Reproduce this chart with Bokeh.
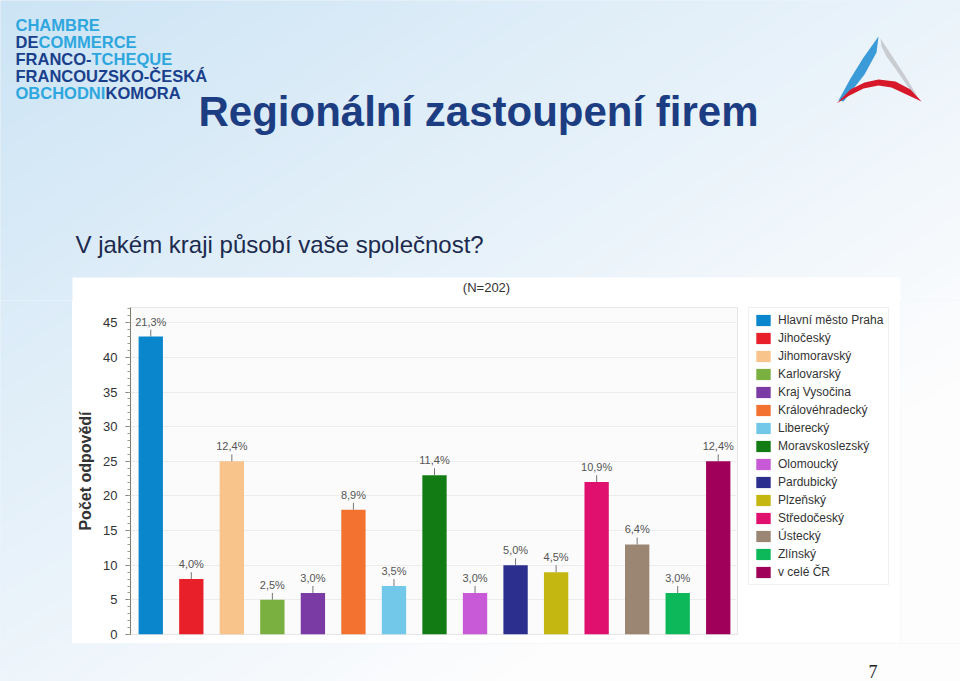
import numpy as np
from bokeh.plotting import figure
from bokeh.layouts import column, row
from bokeh.models import (FactorRange, Range1d, ColumnDataSource, Label, Legend, LegendItem,
                          FixedTicker)
from bokeh.embed import file_html
from bokeh.resources import INLINE
from bokeh.core.properties import value

# ---------------- data ----------------
regions = ["Hlavní město Praha", "Jihočeský", "Jihomoravský", "Karlovarský", "Kraj Vysočina",
           "Královéhradecký", "Liberecký", "Moravskoslezský", "Olomoucký", "Pardubický",
           "Plzeňský", "Středočeský", "Ústecký", "Zlínský", "v celé ČR"]
counts = [43, 8, 25, 5, 6, 18, 7, 23, 6, 10, 9, 22, 13, 6, 25]
pct_labels = ["21,3%", "4,0%", "12,4%", "2,5%", "3,0%", "8,9%", "3,5%", "11,4%", "3,0%",
              "5,0%", "4,5%", "10,9%", "6,4%", "3,0%", "12,4%"]
colors = ["#0a87cc", "#e8202a", "#f9c38c", "#7ab03f", "#7a3ba5", "#f47230", "#72c8e8",
          "#137b13", "#c85ad8", "#2c2f8e", "#c4b712", "#e0106e", "#9a8672", "#0db85a", "#a0005a"]
y_ticks = [0, 5, 10, 15, 20, 25, 30, 35, 40, 45]
y_max = 47.2

slide_title = "Regionální zastoupení firem"
slide_question = "V jakém kraji působí vaše společnost?"
sample_note = "(N=202)"
y_label = "Počet odpovědí"
page_no = "7"

# ---------------- page geometry ----------------
W, H = 960, 681
PANEL_L, PANEL_R, PANEL_T, PANEL_B = 72, 900, 277, 643   # white chart panel
SPLIT = 300                                              # header / chart row split
FL, FR, FT, FB = 130, 738, 307, 634                      # plot frame on the page
LEG_L, LEG_B = 748, 585                                  # legend box corner

FONT = "Liberation Sans"


def bg_rgba(X, Y):
    """slide background: light blue in the top-left fading to white."""
    w = np.clip(0.12 + 0.55 * X / W + 0.6 * Y / H, 0, 1)
    img = np.zeros(X.shape, dtype=np.uint32)
    v = img.view(dtype=np.uint8).reshape(X.shape + (4,))
    v[..., 0] = (198 + w * 55).astype(np.uint8)
    v[..., 1] = (225 + w * 28).astype(np.uint8)
    v[..., 2] = (244 + w * 10).astype(np.uint8)
    v[..., 3] = 255
    return img


def deco_fig(x0, x1, y0, y1, step=2):
    f = figure(width=x1 - x0, height=y1 - y0, title=None,
               x_range=Range1d(x0, x1), y_range=Range1d(H - y1, H - y0),
               x_axis_type=None, y_axis_type=None, min_border=0,
               toolbar_location=None, output_backend="svg",
               outline_line_color=None, border_fill_color="#e1eef8",
               background_fill_color="#e1eef8")
    xs = np.arange(x0, x1, step) + step / 2
    ys = y1 - (np.arange(0, y1 - y0, step) + step / 2)
    XX, YY = np.meshgrid(xs, ys)
    f.image_rgba(image=[bg_rgba(XX, YY)], x=x0 - 1, y=H - y1 - 1, dw=x1 - x0 + 2,
                 dh=y1 - y0 + 2)
    return f


def page_label(f, X, Y, text, **kw):
    f.add_layout(Label(x=X, y=H - Y, text=text, text_baseline="middle", **kw))


# ---------------- header ----------------
head = deco_fig(0, W, 0, SPLIT)
head.quad(left=[PANEL_L], right=[PANEL_R], top=[H - PANEL_T], bottom=[H - SPLIT - 2],
          fill_color="#ffffff", line_color=None)
page_label(head, 486, 287, sample_note, text_font=FONT, text_font_size="13px",
           text_color="#333333", text_align="center")
page_label(head, 198, 111, slide_title, text_font=FONT, text_font_size="42px",
           text_font_style="bold", text_color="#1c3d82")
page_label(head, 75, 244, slide_question, text_font=FONT, text_font_size="24px",
           text_color="#1b2a4e")

LB, DB = "#2ea6de", "#1a3f8c"
logo_parts = [
    (15, 30, "CHAMBRE", LB), (15, 47, "DE", DB), (38, 47, "COMMERCE", LB),
    (15, 64, "FRANCO-", DB), (91, 64, "TCHEQUE", LB), (15, 81, "FRANCOUZSKO-ČESKÁ", DB),
    (15, 98, "OBCHODNI", LB), (105, 98, "KOMORA", DB),
]
for X, Y, t, c in logo_parts:
    page_label(head, X, Y - 6, t, text_font=FONT, text_font_size="16.5px",
               text_font_style="bold", text_color=c)


def logo_patch(pts, color):
    head.patch(x=[a for a, b in pts], y=[H - b for a, b in pts], fill_color=color,
               line_color=None)


logo_patch([(838, 100), (850, 78), (863, 57), (878, 36), (876, 52), (864, 74), (843, 101)], "#3a9bd8")
logo_patch([(880, 38), (892, 56), (905, 76), (917, 96), (912, 93), (899, 74), (886, 56), (881, 46)], "#c9cdd2")
logo_patch([(836, 103), (850, 89), (864, 82), (878, 79), (895, 81), (910, 89), (921, 101),
            (906, 94), (891, 87), (878, 85), (863, 88), (849, 95)], "#d7182a")

# ---------------- side strips and footer ----------------
left_strip = deco_fig(0, PANEL_L, SPLIT, PANEL_B)
right_strip = deco_fig(PANEL_R, W, SPLIT, PANEL_B)
foot = deco_fig(0, W, PANEL_B, H)
page_label(foot, 868, 671, page_no, text_font="Liberation Serif", text_font_size="18px",
           text_color="#222222")

# ---------------- chart ----------------
src = ColumnDataSource(dict(region=regions, count=counts, pct=pct_labels, color=colors,
                            tick_top=[c + 1.0 for c in counts]))

p = figure(width=FR - PANEL_L, height=PANEL_B - SPLIT, title=None,
           x_range=FactorRange(factors=regions, range_padding=0),
           y_range=Range1d(0, y_max),
           output_backend="svg", toolbar_location=None,
           min_border_left=FL - PANEL_L, min_border_right=0,
           min_border_top=FT - SPLIT, min_border_bottom=PANEL_B - FB,
           border_fill_color="#ffffff", background_fill_color="#fbfbfb",
           outline_line_color="#e6e6e6")

bars = p.vbar(x="region", top="count", width=0.6, fill_color="color", line_color=None,
              source=src)
p.segment(x0="region", y0="count", x1="region", y1="tick_top", line_color="#777777",
          line_width=1, source=src)
p.text(x="region", y="count", text="pct", y_offset=-9, text_align="center",
       text_baseline="bottom", text_font_size="11px", text_color="#555555",
       text_font=value(FONT), source=src)

p.xaxis.visible = False
p.xgrid.visible = False
p.ygrid.grid_line_color = "#ececec"
p.yaxis.ticker = FixedTicker(ticks=y_ticks, minor_ticks=list(range(0, 48)))
p.yaxis.axis_line_color = "#7a7a6a"
p.yaxis.major_tick_line_color = "#7a7a6a"
p.yaxis.minor_tick_line_color = "#9a9a8a"
p.yaxis.major_tick_out = 5
p.yaxis.major_tick_in = 0
p.yaxis.minor_tick_out = 3
p.yaxis.minor_tick_in = 0
p.yaxis.major_label_text_font = FONT
p.yaxis.major_label_text_font_size = "13px"
p.yaxis.major_label_text_color = "#333333"
p.yaxis.major_label_standoff = 8
p.yaxis.axis_label = y_label
p.yaxis.axis_label_text_font = FONT
p.yaxis.axis_label_text_font_size = "16px"
p.yaxis.axis_label_text_font_style = "bold"
p.yaxis.axis_label_text_color = "#333333"
p.yaxis.axis_label_standoff = 6

# ---------------- legend (own panel to the right of the plot) ----------------
leg = figure(width=PANEL_R - FR, height=PANEL_B - SPLIT, title=None,
             x_range=FactorRange(factors=regions), y_range=Range1d(1000, 1001),
             x_axis_type=None, y_axis_type=None, min_border=0,
             toolbar_location=None, output_backend="svg",
             outline_line_color=None, border_fill_color="#ffffff",
             background_fill_color="#ffffff")
leg_bars = leg.vbar(x="region", top="count", width=0.6, fill_color="color",
                    line_color=None, source=src)
items = [LegendItem(label=r, renderers=[leg_bars], index=i) for i, r in enumerate(regions)]
legend = Legend(items=items, location=(LEG_L - FR, PANEL_B - LEG_B),
                glyph_width=18, glyph_height=14, label_height=14, spacing=4,
                label_standoff=6, padding=5, margin=0,
                label_text_font=FONT, label_text_font_size="12px",
                label_text_color="#333333",
                border_line_color="#e2e2e2", background_fill_color="#ffffff",
                background_fill_alpha=1)
leg.add_layout(legend)

# each plot wrapped on its own so that plot frames are not aligned with each other
middle = row(column(left_strip), column(p), column(leg), column(right_strip), spacing=0)
page = column(row(head), middle, row(foot), spacing=0)

open("out.html", "w").write(file_html(page, INLINE))
